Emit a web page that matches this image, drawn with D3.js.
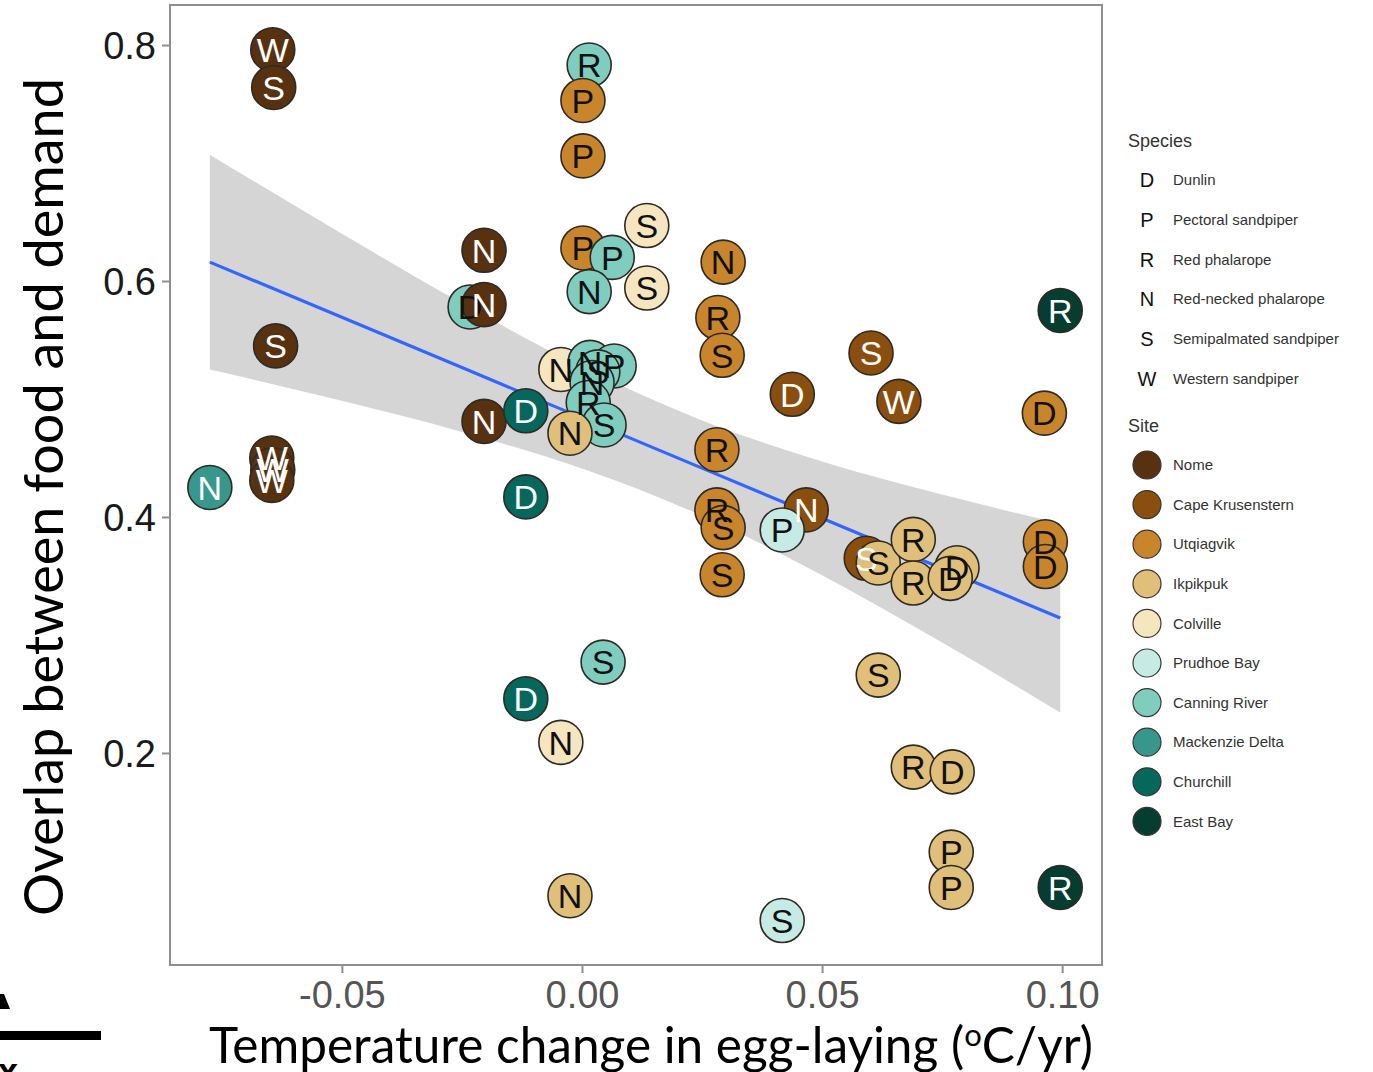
<!DOCTYPE html>
<html>
<head>
<meta charset="utf-8">
<script src="https://cdn.jsdelivr.net/npm/d3@7/dist/d3.min.js"></script>
<style>
  html, body { margin: 0; padding: 0; background: #fff; }
  svg { display: block; }
</style>
</head>
<body>
<svg id="chart" width="1373" height="1072"></svg>
<script>
// ---- data -------------------------------------------------------------
const tempChange = [
  -0.0644, -0.0642, -0.0638, -0.0646, -0.0644, -0.0646, -0.0775,
   0.0015,  0.0002,  0.0002, -0.0204, -0.0233, -0.0204, -0.0204,
  -0.0117, -0.0117, -0.0117, -0.0044, -0.0025,  0.0417,  0.0044,
   0.0002,  0.0063,  0.0135,  0.0135,  0.0015, -0.0044,
   0.0017,  0.0067,  0.0033,  0.0021,  0.0013,  0.0046, -0.0025,
   0.0294,  0.0283,  0.0292,  0.0281,  0.0281,  0.0294,  0.0292,
   0.0438,  0.0467,  0.0417,  0.0602,  0.0660,
   0.0592,  0.0617,  0.0690,  0.0690,  0.0781,  0.0767,
   0.0963,  0.0965,  0.0965,  0.0996,  0.0996,
   0.0617,  0.0690,  0.0771,  0.0769,  0.0769
];
const overlap = [
   0.796, 0.764, 0.545, 0.450, 0.440, 0.431, 0.425,
   0.783, 0.753, 0.706, 0.626, 0.578, 0.580, 0.481,
   0.490, 0.417, 0.246, 0.209, 0.079, 0.058, 0.277,
   0.628, 0.620, 0.647, 0.594, 0.591, 0.525,
   0.531, 0.528, 0.523, 0.514, 0.497, 0.478, 0.471,
   0.616, 0.569, 0.537, 0.457, 0.406, 0.391, 0.351,
   0.504, 0.406, 0.389, 0.539, 0.498,
   0.365, 0.361, 0.381, 0.344, 0.357, 0.348,
   0.488, 0.379, 0.358, 0.575, 0.086,
   0.266, 0.188, 0.184, 0.116, 0.086
];
const species = [
  "W","S","S","W","W","W","N",
  "R","P","P","N","D","N","N",
  "D","D","D","N","N","S","S",
  "P","P","S","S","N","N",
  "N","P","S","N","R","S","N",
  "N","R","S","R","R","S","S",
  "D","N","P","S","W",
  "S","S","R","R","D","D",
  "D","D","D","R","R",
  "S","R","D","P","P"
];
const site = [
  "Nome","Nome","Nome","Nome","Nome","Nome","Mackenzie Delta",
  "Canning River","Utqiagvik","Utqiagvik","Nome","Canning River","Nome","Nome",
  "Churchill","Churchill","Churchill","Colville","Ikpikpuk","Prudhoe Bay","Canning River",
  "Utqiagvik","Canning River","Colville","Colville","Canning River","Colville",
  "Canning River","Canning River","Canning River","Canning River","Canning River","Canning River","Ikpikpuk",
  "Utqiagvik","Utqiagvik","Utqiagvik","Utqiagvik","Utqiagvik","Utqiagvik","Utqiagvik",
  "Cape Krusenstern","Cape Krusenstern","Prudhoe Bay","Cape Krusenstern","Cape Krusenstern",
  "Cape Krusenstern","Ikpikpuk","Ikpikpuk","Ikpikpuk","Ikpikpuk","Ikpikpuk",
  "Utqiagvik","Utqiagvik","Utqiagvik","East Bay","East Bay",
  "Ikpikpuk","Ikpikpuk","Ikpikpuk","Ikpikpuk","Ikpikpuk"
];

// linear fit with 95% confidence band
const fitX     = [-0.0775, -0.05,  -0.025, 0.0,   0.025,  0.05,   0.075,  0.0996];
const fitY     = [ 0.616,  0.5692, 0.5266, 0.4840, 0.4414, 0.3989, 0.3563, 0.3144];
const fitLower = [ 0.525,  0.4984, 0.4721, 0.441, 0.401,  0.3507, 0.2936, 0.2344];
const fitUpper = [ 0.707,  0.640,  0.5811, 0.527, 0.4818, 0.4471, 0.419,  0.3944];

const xTicks = [-0.05, 0.00, 0.05, 0.10];
const xTickLabels = ["-0.05", "0.00", "0.05", "0.10"];
const yTicks = [0.2, 0.4, 0.6, 0.8];
const yTickLabels = ["0.2", "0.4", "0.6", "0.8"];

const speciesCodes = ["D","P","R","N","S","W"];
const speciesNames = ["Dunlin","Pectoral sandpiper","Red phalarope","Red-necked phalarope","Semipalmated sandpiper","Western sandpiper"];
const siteNames  = ["Nome","Cape Krusenstern","Utqiagvik","Ikpikpuk","Colville","Prudhoe Bay","Canning River","Mackenzie Delta","Churchill","East Bay"];
const siteColors = ["#583210","#8a4f0f","#c8852c","#dfbf79","#f5e6c0","#c6ebe5","#7fcdbf","#37978c","#06675d","#053d31"];
const darkSites  = ["Nome","Cape Krusenstern","Mackenzie Delta","Churchill","East Bay"];

// ---- layout -----------------------------------------------------------
const svg = d3.select("#chart");
const panel = { left: 170, right: 1102, top: 5, bottom: 965 };

const x = d3.scaleLinear().domain([-0.0858, 0.1083]).range([panel.left, panel.right]);
const y = d3.scaleLinear().domain([0.0203, 0.8339]).range([panel.bottom, panel.top]);
const fill = d3.scaleOrdinal().domain(siteNames).range(siteColors);

// confidence band
const band = fitX.map((v, i) => ({ x: v, lo: fitLower[i], hi: fitUpper[i], fit: fitY[i] }));
svg.append("path")
  .datum(band)
  .attr("fill", "#d5d5d5")
  .attr("d", d3.area().x(d => x(d.x)).y0(d => y(d.lo)).y1(d => y(d.hi)).curve(d3.curveMonotoneX));

svg.append("path")
  .datum(band)
  .attr("fill", "none")
  .attr("stroke", "#3366ff")
  .attr("stroke-width", 3.2)
  .attr("d", d3.line().x(d => x(d.x)).y(d => y(d.fit)));

// points: circles layer, then letters layer
const pts = tempChange.map((v, i) => ({ x: v, y: overlap[i], sp: species[i], site: site[i] }));

svg.append("g").selectAll("circle")
  .data(pts).join("circle")
  .attr("cx", d => x(d.x))
  .attr("cy", d => y(d.y))
  .attr("r", 22)
  .attr("fill", d => fill(d.site))
  .attr("stroke", "#2e2a24")
  .attr("stroke-width", 1.6);

svg.append("g").selectAll("text")
  .data(pts).join("text")
  .attr("x", d => x(d.x))
  .attr("y", d => y(d.y))
  .attr("dy", "0.36em")
  .attr("text-anchor", "middle")
  .attr("font-family", "Liberation Sans, Arial, sans-serif")
  .attr("font-size", 34)
  .attr("fill", d => darkSites.includes(d.site) ? "#ffffff" : "#111111")
  .text(d => d.sp);

// panel border
svg.append("rect")
  .attr("x", panel.left).attr("y", panel.top)
  .attr("width", panel.right - panel.left).attr("height", panel.bottom - panel.top)
  .attr("fill", "none").attr("stroke", "#8f8f8f").attr("stroke-width", 2);

// axes
const xAxis = d3.axisBottom(x).tickValues(xTicks).tickFormat((d, i) => xTickLabels[i]).tickSize(8).tickPadding(8);
const gx = svg.append("g").attr("transform", `translate(0,${panel.bottom})`).call(xAxis);
gx.select(".domain").remove();
gx.selectAll("line").attr("stroke", "#8f8f8f").attr("stroke-width", 2);
gx.selectAll("text")
  .attr("font-family", "Liberation Sans Narrow, Arial Narrow, sans-serif")
  .attr("font-size", 38).attr("fill", "#555555");

const yAxis = d3.axisLeft(y).tickValues(yTicks).tickFormat((d, i) => yTickLabels[i]).tickSize(8).tickPadding(6);
const gy = svg.append("g").attr("transform", `translate(${panel.left},0)`).call(yAxis);
gy.select(".domain").remove();
gy.selectAll("line").attr("stroke", "#8f8f8f").attr("stroke-width", 2);
gy.selectAll("text")
  .attr("font-family", "Liberation Sans Narrow, Arial Narrow, sans-serif")
  .attr("font-size", 38).attr("fill", "#1a1a1a").attr("dy", "0.36em");

// axis titles
svg.append("text")
  .attr("transform", "translate(63,497) rotate(-90)")
  .attr("text-anchor", "middle")
  .attr("font-family", "Lato, Open Sans, sans-serif")
  .attr("font-size", 54)
  .attr("fill", "#000")
  .text("Overlap between food and demand");

const xt = svg.append("text")
  .attr("x", 651).attr("y", 1063)
  .attr("text-anchor", "middle")
  .attr("font-family", "Lato, Open Sans, sans-serif")
  .attr("font-size", 49.5)
  .attr("fill", "#000");
xt.append("tspan").text("Temperature change in egg-laying (");
xt.append("tspan").attr("font-size", 31).attr("dy", -17).text("o");
xt.append("tspan").attr("dy", 17).text("C/yr)");

// legend: species
const lg = svg.append("g").attr("font-family", "Liberation Sans, Arial, sans-serif");
lg.append("text").attr("x", 1128).attr("y", 147).attr("font-size", 18).attr("fill", "#333").text("Species");
speciesCodes.forEach((c, i) => {
  const cy = 180 + i * 39.7;
  lg.append("text").attr("x", 1147).attr("y", cy).attr("dy", "0.36em")
    .attr("text-anchor", "middle").attr("font-size", 20).attr("fill", "#111").text(c);
  lg.append("text").attr("x", 1173).attr("y", cy).attr("dy", "0.35em")
    .attr("font-size", 15).attr("fill", "#333").text(speciesNames[i]);
});

// legend: site
lg.append("text").attr("x", 1128).attr("y", 432).attr("font-size", 18).attr("fill", "#333").text("Site");
siteNames.forEach((s, i) => {
  const cy = 465 + i * 39.6;
  lg.append("circle").attr("cx", 1147).attr("cy", cy).attr("r", 14)
    .attr("fill", fill(s)).attr("stroke", "#3a3530").attr("stroke-width", 1.2);
  lg.append("text").attr("x", 1173).attr("y", cy).attr("dy", "0.35em")
    .attr("font-size", 15).attr("fill", "#333").text(s);
});

// fragments at the lower-left corner
const frag = svg.append("g").attr("fill", "#000");
frag.append("polygon").attr("points", "0,994 4,994 10,1009 0,1009");
frag.append("rect").attr("x", 0).attr("y", 1031).attr("width", 101).attr("height", 9);
frag.append("text").attr("x", -2).attr("y", 1084)
  .attr("font-family", "Liberation Sans, Arial, sans-serif")
  .attr("font-weight", "bold").attr("font-size", 36).text("x");
</script>
</body>
</html>
